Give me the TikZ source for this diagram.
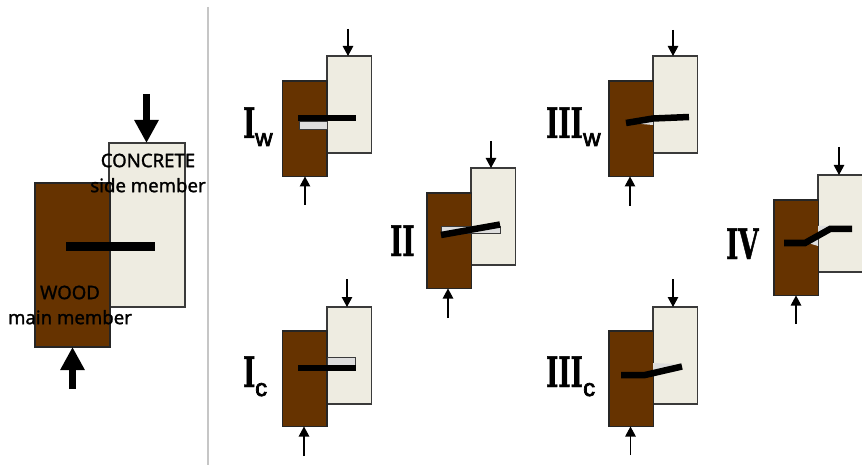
\documentclass[tikz,border=0pt]{standalone}
\usepackage{fontspec}
\usepackage{graphicx}
\setmainfont[FakeBold=1.4]{Noto Sans}
\newfontfamily\lab[FakeStretch=0.62,FakeBold=1]{DejaVu Serif Bold}
\newfontfamily\subf[FakeBold=3]{Liberation Sans}
\usetikzlibrary{arrows.meta}
\definecolor{woodc}{HTML}{663300}
\definecolor{concc}{HTML}{EEECE1}
\definecolor{gapc}{HTML}{DDDDDD}
\definecolor{edgec}{HTML}{3A3A3A}
\tikzset{
  woodbox/.style={draw=black!85,line width=1.1pt,fill=woodc,inner sep=0,outer sep=0,anchor=north west,minimum width=44.5pt,minimum height=95.5pt},
  concbox/.style={draw=edgec,line width=1.1pt,fill=concc,inner sep=0,outer sep=0,anchor=north west,minimum width=44.5pt,minimum height=97pt},
  gapbox/.style={draw=edgec,line width=.8pt,fill=gapc},
  bolt/.style={line width=6.5pt,black,line join=miter},
  force/.style={line width=1.1pt,-{Triangle[width=10.5pt,length=10pt]}},
  bigforce/.style={line width=7pt,-{Triangle[width=23pt,length=23pt]}},
  memtext/.style={font=\fontsize{18.6}{25}\selectfont,align=center,inner sep=0,text=black},
  caselabel/.style={font=\fontsize{42}{42}\lab,inner sep=0,anchor=base west},
  casesub/.style={font=\fontsize{24}{24}\subf,inner sep=0,anchor=base west}
}
\newcommand{\joint}[5]{%
  \node[concbox] (#1c) at (#4,#5) {};
  \node[woodbox] (#1w) at (#2,#3) {};
}
\begin{document}
\begin{tikzpicture}[x=1pt,y=-1pt]
\useasboundingbox (0,0) rectangle (862,465);
\fill[white] (0,0) rectangle (862,465);
\coordinate (sepT) at (208,7);
\coordinate (sepB) at (208,465);
\draw[gray!45,line width=1.2pt] (sepT) -- (sepB);

% main specimen
\node[concbox,minimum width=76pt,minimum height=164pt] (mc) at (109,143) {};
\node[woodbox,minimum width=75pt,minimum height=164pt] (mw) at (35,183) {};
\fill[black] (66,242) rectangle (154.5,251);
\coordinate (mt) at (146.5,94);
\coordinate (mb) at (72.5,389);
\draw[bigforce] (mt) -- (mt |- mc.north);
\draw[bigforce] (mb) -- (mb |- mw.south);
\node[memtext] (concl) at (148,173) {CONCRETE\\side member};
\node[memtext] (woodl) at (70,305) {WOOD\\main member};

% I_w
\joint{a}{282.5}{81}{327}{56}
\draw[gapbox] (299,121) rectangle (327,129);
\draw[bolt] (298,118) -- (355.5,118);
\coordinate (at) at (348,29);
\coordinate (ab) at (305,205);
\draw[force] (at) -- (at |- ac.north);
\draw[force] (ab) -- (ab |- aw.south);
\node[caselabel] (al) at (243,138) {I};
\node[casesub] (as) at (255,146) {w};

% I_c
\joint{b}{282.5}{331}{327}{307}
\draw[gapbox] (327,357.5) rectangle (355,365);
\draw[bolt] (298,368) -- (355.5,368);
\coordinate (bt) at (347,279);
\coordinate (bb) at (304,456);
\draw[force] (bt) -- (bt |- bc.north);
\draw[force] (bb) -- (bb |- bw.south);
\node[caselabel] (bl) at (243,387) {I};
\node[casesub] (bs) at (255,396) {c};

% II
\joint{c}{427}{193}{471}{168}
\draw[gapbox] (441,226) rectangle (500,233);
\draw[bolt] (441,235) -- (500,224.5);
\coordinate (ct) at (491,141);
\coordinate (cb) at (448,318);
\draw[force] (ct) -- (ct |- cc.north);
\draw[force] (cb) -- (cb |- cw.south);
\node[caselabel] (cl) at (390,256) {II};

% III_w
\joint{d}{609}{81}{653}{56}
\fill[gapc] (630,123) -- (653,119) -- (653,125) -- cycle;
\draw[bolt] (626,123) -- (653,118.5) -- (689,117);
\coordinate (dt) at (673,30);
\coordinate (db) at (630,206);
\draw[force] (dt) -- (dt |- dc.north);
\draw[force] (db) -- (db |- dw.south);
\node[caselabel] (dl) at (546,138) {III};
\node[casesub] (ds) at (583,146) {w};

% III_c
\joint{e}{609}{331}{653}{307}
\fill[gapc] (653,363) -- (675,364) -- (653,376) -- cycle;
\draw[bolt] (621,375) -- (645,375) -- (682,366.5);
\coordinate (et) at (673,279);
\coordinate (eb) at (630.5,455);
\draw[force] (et) -- (et |- ec.north);
\draw[force] (eb) -- (eb |- ew.south);
\node[caselabel] (el) at (546,387) {III};
\node[casesub] (es) at (583,396) {c};

% IV
\joint{f}{774}{200}{818}{175}
\fill[gapc] (808,243) -- (818,236) -- (818,246) -- cycle;
\fill[gapc] (818,226) -- (832,226) -- (818,233) -- cycle;
\draw[bolt] (784,243) -- (805,243) -- (830,229) -- (852,229);
\coordinate (ft) at (839,147);
\coordinate (fb) at (796,324);
\draw[force] (ft) -- (ft |- fc.north);
\draw[force] (fb) -- (fb |- fw.south);
\node[caselabel] (fl) at (726,259) {IV};
\end{tikzpicture}
\end{document}
